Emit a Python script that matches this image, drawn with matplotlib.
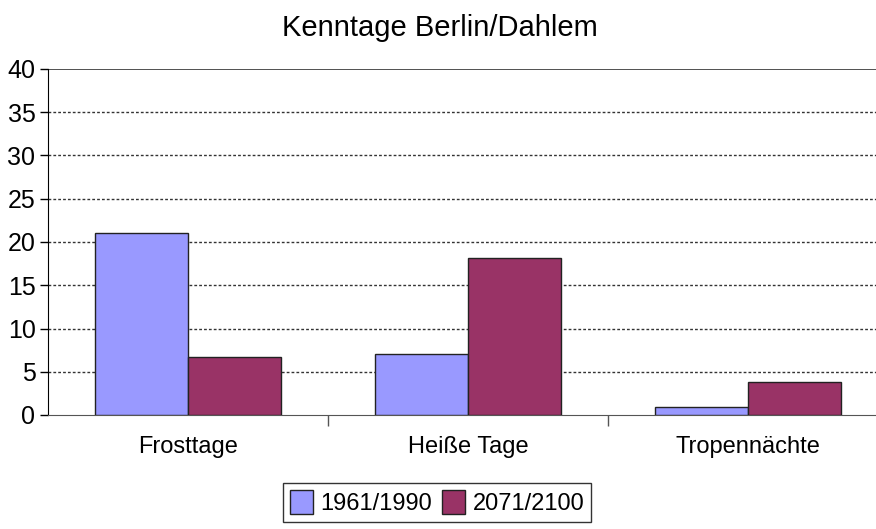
import matplotlib
matplotlib.use("Agg")
import matplotlib.pyplot as plt
import numpy as np

categories = ["Frosttage", "Heiße Tage", "Tropennächte"]
series_names = ["1961/1990", "2071/2100"]
values_1961 = [21.0, 7.0, 0.9]
values_2071 = [6.7, 18.2, 3.8]
colors = ["#9999FF", "#993366"]
yticks = [0, 5, 10, 15, 20, 25, 30, 35, 40]

plt.rcParams['font.family'] = ['Liberation Sans', 'DejaVu Sans']

W, H = 876, 529
fig = plt.figure(figsize=(W/100, H/100), dpi=100)
ax = fig.add_axes([48/W, (H-415)/H, (888-48)/W, (415-69)/H])

x = np.arange(len(categories))
bw = 1/3
ax.bar(x - bw/2, values_1961, width=bw, color=colors[0], edgecolor="#222222", linewidth=1.0, label=series_names[0], zorder=3)
ax.bar(x + bw/2, values_2071, width=bw, color=colors[1], edgecolor="#222222", linewidth=1.0, label=series_names[1], zorder=3)

ax.set_xlim(-0.5, len(categories) - 0.5)
ax.set_ylim(0, 40)
ax.set_yticks(yticks)
ax.set_yticklabels([str(v) for v in yticks], fontsize=18)
for yv in yticks[1:-1]:
    ax.axhline(yv, color="#333333", linestyle=(0, (2, 1.5)), linewidth=1.0, zorder=1)
ax.axhline(40, color="#333333", linewidth=1.2, zorder=1)

ax.set_xticks(x)
ax.set_xticklabels(categories, fontsize=17)
ax.tick_params(axis='x', length=0, pad=15)
ax.set_xticks([0.5, 1.5], minor=True)
ax.tick_params(axis='x', which='minor', length=8, width=1, color="#555555")
ax.tick_params(axis='y', length=6, width=1, pad=3)

for s in ["top", "right"]:
    ax.spines[s].set_visible(False)
ax.spines["left"].set_color("#000000")
ax.spines["bottom"].set_color("#555555")

fig.text(440/W, 1 - 28/H, "Kenntage Berlin/Dahlem", ha="center", va="center", fontsize=21)

leg = fig.legend(loc="upper center", bbox_to_anchor=(437/W, 1 - 483/H), ncol=2, fontsize=17,
                 frameon=True, fancybox=False, edgecolor="#000000", handlelength=1.0,
                 handleheight=1.2, handletextpad=0.3, columnspacing=0.4, borderpad=0.3,
                 borderaxespad=0)
leg.get_frame().set_linewidth(1.0)

fig.savefig("out.png", dpi=100)
